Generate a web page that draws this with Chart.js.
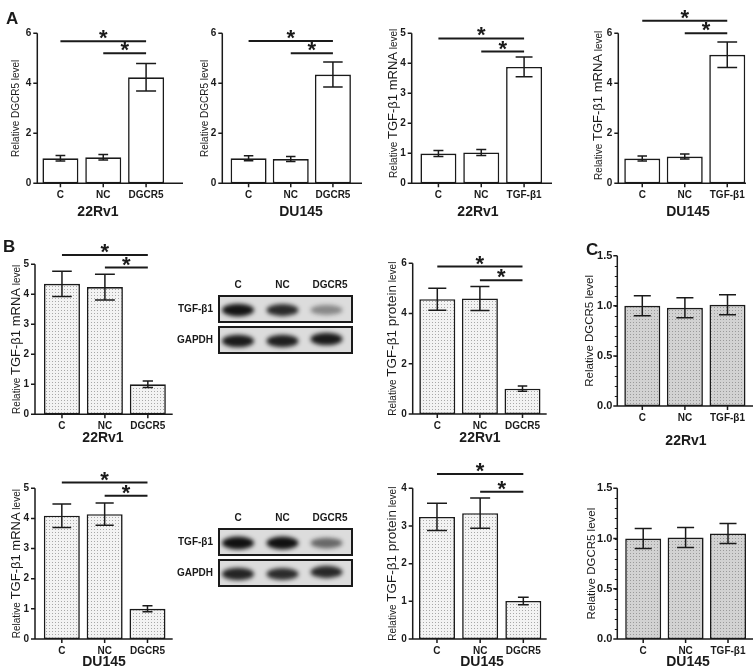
<!DOCTYPE html>
<html>
<head>
<meta charset="utf-8">
<script src="https://cdn.jsdelivr.net/npm/chart.js@4.4.1/dist/chart.umd.min.js"></script>
<style>
  body { margin: 0; background: #fff; }
  #fig { position: relative; width: 756px; height: 671px; overflow: hidden; font-family: Arial, "Liberation Sans", sans-serif; }
  #fig canvas { position: absolute; }
  .lbl { position: absolute; font-weight: bold; color: #1a1a1a; white-space: nowrap; line-height: 1; }
</style>
</head>
<body>
<div id="fig"></div>
<script>
const FONT = 'Arial, "Liberation Sans", sans-serif';
const INK = '#1a1a1a';
const fig = document.getElementById('fig');

// ---- groups ----
const dgcrGroups = ['C', 'NC', 'DGCR5'];
const tgfGroups = ['C', 'NC', 'TGF-β1'];

// ---- A: overexpression (mean, sd) ----
const a22DgcrMean = [1.00, 1.04, 4.24];
const a22DgcrSd = [0.11, 0.11, 0.55];
const aDuDgcrMean = [1.00, 0.97, 4.35];
const aDuDgcrSd = [0.10, 0.10, 0.50];
const a22TgfMean = [0.99, 1.03, 3.88];
const a22TgfSd = [0.10, 0.10, 0.33];
const aDuTgfMean = [0.99, 1.07, 5.14];
const aDuTgfSd = [0.10, 0.10, 0.51];

// ---- B: TGF-β1 after DGCR5 ----
const b22MrnaMean = [4.35, 4.24, 1.00];
const b22MrnaSd = [0.42, 0.43, 0.11];
const b22ProtMean = [4.57, 4.60, 1.01];
const b22ProtSd = [0.44, 0.48, 0.10];
const bDuMrnaMean = [4.09, 4.14, 1.00];
const bDuMrnaSd = [0.39, 0.37, 0.10];
const bDuProtMean = [3.24, 3.34, 1.01];
const bDuProtSd = [0.36, 0.40, 0.10];

// ---- C: DGCR5 after TGF-β1 ----
const c22Mean = [1.00, 0.98, 1.01];
const c22Sd = [0.10, 0.10, 0.10];
const cDuMean = [1.00, 1.01, 1.05];
const cDuSd = [0.10, 0.10, 0.10];

// ---- y tick labels ----
const ticks0to6 = [0, 2, 4, 6];
const ticks0to5 = [0, 1, 2, 3, 4, 5];
const ticks0to4 = [0, 1, 2, 3, 4];
const ticks0to15 = [0, 0.5, 1.0, 1.5];

// ---- significance lines: [from group, to group, height] ----
const sigA22Dgcr = [[0, 2, 5.68], [1, 2, 5.2]];
const sigADuDgcr = [[0, 2, 5.69], [1, 2, 5.2]];
const sigA22Tgf = [[0, 2, 4.83], [1, 2, 4.39]];
const sigADuTgf = [[0, 2, 6.5], [1, 2, 6.0]];
const sigB22Mrna = [[0, 2, 5.31], [1, 2, 4.89]];
const sigB22Prot = [[0, 2, 5.87], [1, 2, 5.33]];
const sigBDuMrna = [[0, 2, 5.19], [1, 2, 4.75]];
const sigBDuProt = [[0, 2, 4.38], [1, 2, 3.91]];

// ---- western blots: band darkness per lane ----
const blotLanes = ['C', 'NC', 'DGCR5'];
const blotRows = ['TGF-β1', 'GAPDH'];
const blot22Tgf = [0.95, 0.85, 0.4];
const blot22Gapdh = [0.92, 0.9, 0.92];
const blotDuTgf = [0.97, 0.97, 0.55];
const blotDuGapdh = [0.88, 0.84, 0.86];

// y-axis titles: [text, font size]
const titleDgcr = [['Relative DGCR5 level', 10]];
const titleDgcrC = [['Relative DGCR5 level', 11.5]];
const titleTgfMrna = [['Relative ', 10], ['TGF-β1 mRNA', 13], [' level', 10]];
const titleTgfProt = [['Relative ', 10], ['TGF-β1 protein', 13.5], [' level', 10]];

function dots(base, dot) {
  const p = document.createElement('canvas');
  p.width = 3; p.height = 3;
  const g = p.getContext('2d');
  g.fillStyle = base; g.fillRect(0, 0, 3, 3);
  g.fillStyle = dot; g.fillRect(1, 1, 1, 1);
  return g.createPattern(p, 'repeat');
}
const fillB = dots('#f3f3f3', '#a8a8a8');
const fillC = dots('#d2d2d2', '#9a9a9a');

function extras(cfg) {
  return {
    id: 'figExtras',
    afterDatasetsDraw(chart) {
      const ctx = chart.ctx, xs = chart.scales.x, ys = chart.scales.y;
      const ox = cfg.box[0], oy = cfg.box[1];
      const ax = cfg.axisX - ox, ae = cfg.axisEnd - ox;
      const top = ys.getPixelForValue(cfg.ticks[cfg.ticks.length - 1]);
      const base = ys.getPixelForValue(0);
      ctx.save();
      ctx.strokeStyle = INK;
      ctx.fillStyle = INK;
      ctx.lineWidth = 1.5;
      // axes and tick marks
      ctx.beginPath();
      ctx.moveTo(ax, top); ctx.lineTo(ax, base); ctx.lineTo(ae, base);
      cfg.ticks.forEach(v => {
        const py = ys.getPixelForValue(v);
        ctx.moveTo(ax - 4, py); ctx.lineTo(ax, py);
      });
      chart.data.labels.forEach((l, i) => {
        const px = xs.getPixelForValue(i);
        ctx.moveTo(px, base); ctx.lineTo(px, base + 4);
      });
      ctx.stroke();
      if (cfg.minor) {
        ctx.lineWidth = 1;
        ctx.beginPath();
        const last = cfg.ticks[cfg.ticks.length - 1];
        for (let v = cfg.minor; v < last; v += cfg.minor) {
          const py = Math.round(ys.getPixelForValue(v)) + 0.5;
          ctx.moveTo(ax - 2.5, py); ctx.lineTo(ax, py);
        }
        ctx.stroke();
      }
      // error bars
      const meta = chart.getDatasetMeta(0);
      ctx.lineWidth = 1.5;
      ctx.beginPath();
      cfg.mean.forEach((m, i) => {
        const px = meta.data[i].x;
        const hi = ys.getPixelForValue(m + cfg.sd[i]);
        const lo = ys.getPixelForValue(m - cfg.sd[i]);
        const cap = Math.min(10, 3.5 + (lo - hi) / 4);
        ctx.moveTo(px, hi); ctx.lineTo(px, lo);
        ctx.moveTo(px - cap, hi); ctx.lineTo(px + cap, hi);
        ctx.moveTo(px - cap, lo); ctx.lineTo(px + cap, lo);
      });
      ctx.stroke();
      // significance lines
      (cfg.sig || []).forEach(([a, b, v]) => {
        const x1 = xs.getPixelForValue(a), x2 = xs.getPixelForValue(b);
        const py = ys.getPixelForValue(v);
        ctx.lineWidth = 2;
        ctx.beginPath(); ctx.moveTo(x1, py); ctx.lineTo(x2, py); ctx.stroke();
        ctx.font = 'bold 22px ' + FONT;
        ctx.textAlign = 'center';
        ctx.textBaseline = 'alphabetic';
        ctx.fillText('*', (x1 + x2) / 2, py + 4);
      });
      // y title (mixed sizes)
      ctx.save();
      ctx.translate(cfg.yTitleX - ox, (chart.chartArea.top + chart.chartArea.bottom) / 2 - (cfg.yTitleUp || 0));
      ctx.rotate(-Math.PI / 2);
      let total = 0;
      cfg.yTitle.forEach(([t, s]) => { ctx.font = s + 'px ' + FONT; total += ctx.measureText(t).width; });
      let cx = -total / 2;
      ctx.textAlign = 'left';
      ctx.textBaseline = 'alphabetic';
      cfg.yTitle.forEach(([t, s]) => {
        ctx.font = s + 'px ' + FONT;
        ctx.fillText(t, cx, 4);
        cx += ctx.measureText(t).width;
      });
      ctx.restore();
      // x title (cell line)
      ctx.font = 'bold 14px ' + FONT;
      ctx.textAlign = 'center';
      ctx.textBaseline = 'middle';
      ctx.fillText(cfg.cell, cfg.xTitle[0] - ox, cfg.xTitle[1] - oy);
      ctx.restore();
    }
  };
}

function makeBar(cfg) {
  const [cx, cy, cw, ch] = cfg.box;
  const [al, ar, at, ab] = cfg.area;
  const c = document.createElement('canvas');
  c.width = cw; c.height = ch;
  c.style.left = cx + 'px'; c.style.top = cy + 'px';
  c.style.width = cw + 'px'; c.style.height = ch + 'px';
  fig.appendChild(c);
  const spacing = (ar - al) / cfg.labels.length;
  const tickFont = { family: FONT, size: 10, weight: 'bold' };
  new Chart(c, {
    type: 'bar',
    data: {
      labels: cfg.labels,
      datasets: [{
        data: cfg.mean,
        backgroundColor: cfg.fill,
        borderColor: INK,
        borderWidth: 1.6,
        borderSkipped: false,
        categoryPercentage: 1,
        barPercentage: 36 / spacing
      }]
    },
    options: {
      responsive: false,
      animation: false,
      devicePixelRatio: 1,
      layout: { padding: { top: at - cy, right: cx + cw - ar, left: 0, bottom: 0 } },
      plugins: { legend: { display: false }, tooltip: { enabled: false } },
      scales: {
        x: {
          grid: { display: false, drawTicks: false },
          border: { display: false },
          ticks: { font: tickFont, color: INK, padding: 6, maxRotation: 0, autoSkip: false },
          afterFit: s => { s.height = cy + ch - ab; }
        },
        y: {
          min: 0,
          max: cfg.ticks[cfg.ticks.length - 1],
          grid: { display: false, drawTicks: false },
          border: { display: false },
          afterBuildTicks: s => { s.ticks = cfg.ticks.map(v => ({ value: v })); },
          ticks: {
            font: cfg.dec ? { family: FONT, size: 11, weight: 'bold' } : tickFont, color: INK,
            padding: al - cfg.axisX + (cfg.dec ? 5 : 6),
            callback: v => cfg.dec ? Number(v).toFixed(1) : v
          },
          afterFit: s => { s.width = al - cx; }
        }
      }
    },
    plugins: [extras(cfg)]
  });
}

// ---- panel A ----
makeBar({ labels: dgcrGroups, mean: a22DgcrMean, sd: a22DgcrSd, ticks: ticks0to6, sig: sigA22Dgcr,
  fill: '#ffffff', yTitle: titleDgcr, cell: '22Rv1',
  box: [0, 0, 185, 222], area: [39, 167.5, 33.3, 183.3], axisX: 37.3, axisEnd: 183, yTitleX: 15, xTitle: [98, 212] });
makeBar({ labels: dgcrGroups, mean: aDuDgcrMean, sd: aDuDgcrSd, ticks: ticks0to6, sig: sigADuDgcr,
  fill: '#ffffff', yTitle: titleDgcr, cell: 'DU145',
  box: [185, 0, 185, 222], area: [227.5, 354, 33.3, 183.3], axisX: 222.3, axisEnd: 362, yTitleX: 203.5, xTitle: [301, 212] });
makeBar({ labels: tgfGroups, mean: a22TgfMean, sd: a22TgfSd, ticks: ticks0to5, sig: sigA22Tgf,
  fill: '#ffffff', yTitle: titleTgfMrna, yTitleUp: 5, cell: '22Rv1',
  box: [370, 0, 190, 222], area: [417, 545.5, 33.3, 183.3], axisX: 411.7, axisEnd: 552, yTitleX: 393.3, xTitle: [478, 212] });
makeBar({ labels: tgfGroups, mean: aDuTgfMean, sd: aDuTgfSd, ticks: ticks0to6, sig: sigADuTgf,
  fill: '#ffffff', yTitle: titleTgfMrna, yTitleUp: 3, cell: 'DU145',
  box: [560, 0, 196, 222], area: [621, 748.5, 33.3, 183.3], axisX: 618.3, axisEnd: 746, yTitleX: 598.3, xTitle: [688, 212] });

// ---- panel B ----
makeBar({ labels: dgcrGroups, mean: b22MrnaMean, sd: b22MrnaSd, ticks: ticks0to5, sig: sigB22Mrna,
  fill: fillB, yTitle: titleTgfMrna, cell: '22Rv1',
  box: [0, 225, 190, 222], area: [40.5, 169.3, 264.3, 414.3], axisX: 35, axisEnd: 172.7, yTitleX: 16, xTitle: [103, 438] });
makeBar({ labels: dgcrGroups, mean: b22ProtMean, sd: b22ProtSd, ticks: ticks0to6, sig: sigB22Prot,
  fill: fillB, yTitle: titleTgfProt, cell: '22Rv1',
  box: [365, 225, 195, 222], area: [416, 543.8, 263.3, 414], axisX: 412.7, axisEnd: 546.7, yTitleX: 391.7, xTitle: [480, 438] });
makeBar({ labels: dgcrGroups, mean: bDuMrnaMean, sd: bDuMrnaSd, ticks: ticks0to5, sig: sigBDuMrna,
  fill: fillB, yTitle: titleTgfMrna, cell: 'DU145',
  box: [0, 450, 190, 221], area: [40.4, 168.9, 488.3, 639], axisX: 35, axisEnd: 172.7, yTitleX: 16, xTitle: [104, 661.7] });
makeBar({ labels: dgcrGroups, mean: bDuProtMean, sd: bDuProtSd, ticks: ticks0to4, sig: sigBDuProt,
  fill: fillB, yTitle: titleTgfProt, cell: 'DU145',
  box: [365, 450, 195, 221], area: [415.4, 544.9, 488.3, 639], axisX: 412.7, axisEnd: 546.7, yTitleX: 391.7, xTitle: [482, 661.7] });

// ---- panel C ----
makeBar({ labels: tgfGroups, mean: c22Mean, sd: c22Sd, ticks: ticks0to15, dec: true, minor: 0.1,
  fill: fillC, yTitle: titleDgcrC, cell: '22Rv1',
  box: [560, 225, 196, 222], area: [621, 748.8, 255.7, 406], axisX: 617.3, axisEnd: 753, yTitleX: 589.3, xTitle: [686, 441] });
makeBar({ labels: tgfGroups, mean: cDuMean, sd: cDuSd, ticks: ticks0to15, dec: true, minor: 0.1,
  fill: fillC, yTitle: titleDgcrC, cell: 'DU145',
  box: [560, 450, 196, 221], area: [622, 749.2, 488.3, 639], axisX: 617.3, axisEnd: 753, yTitleX: 590.7, xTitle: [688, 661.7] });

// ---- western blots (image, not chart) ----
const laneX = [238, 282.5, 326.5];
function blot(top, tgf, gapdh) {
  const c = document.createElement('canvas');
  c.width = 140; c.height = 100;
  c.style.left = '216px'; c.style.top = (top - 20) + 'px';
  fig.appendChild(c);
  const g = c.getContext('2d');
  const boxes = [[0, 26, tgf, 0], [31, 26, gapdh, -1]];
  boxes.forEach(([y0, h, levels, lift]) => {
    const bx = 3, by = 20 + y0;
    g.fillStyle = '#dcdcdc';
    g.fillRect(bx, by, 133, h);
    g.save();
    g.beginPath(); g.rect(bx, by, 133, h); g.clip();
    g.filter = 'blur(2px)';
    levels.forEach((lv, i) => {
      g.fillStyle = 'rgba(10,10,10,' + lv + ')';
      g.beginPath();
      g.ellipse(laneX[i] - 216, by + h / 2 + 1 + lift * (i === 2 ? 2 : 0), 16, 4 + lv * 2.5, 0, 0, Math.PI * 2);
      g.fill();
    });
    g.restore();
    g.strokeStyle = INK; g.lineWidth = 2;
    g.strokeRect(bx, by, 133, h);
  });
  // labels
  blotLanes.forEach((t, i) => {
    const d = document.createElement('div');
    d.className = 'lbl';
    d.textContent = t;
    d.style.fontSize = '10px';
    d.style.left = (i === 2 ? 330 : laneX[i]) + 'px';
    d.style.top = (top - 11) + 'px';
    d.style.transform = 'translate(-50%,-50%)';
    fig.appendChild(d);
  });
  blotRows.forEach((t, i) => {
    const d = document.createElement('div');
    d.className = 'lbl';
    d.textContent = t;
    d.style.fontSize = '10px';
    d.style.right = (756 - 213) + 'px';
    d.style.top = (top + 13 + i * 31) + 'px';
    d.style.transform = 'translateY(-50%)';
    fig.appendChild(d);
  });
}
blot(296, blot22Tgf, blot22Gapdh);
blot(529, blotDuTgf, blotDuGapdh);

// ---- panel letters ----
[['A', 6, 18], ['B', 3, 246], ['C', 586, 249]].forEach(([t, x, y]) => {
  const d = document.createElement('div');
  d.className = 'lbl';
  d.textContent = t;
  d.style.fontSize = '17px';
  d.style.left = x + 'px';
  d.style.top = y + 'px';
  d.style.transform = 'translateY(-50%)';
  fig.appendChild(d);
});
</script>
</body>
</html>
